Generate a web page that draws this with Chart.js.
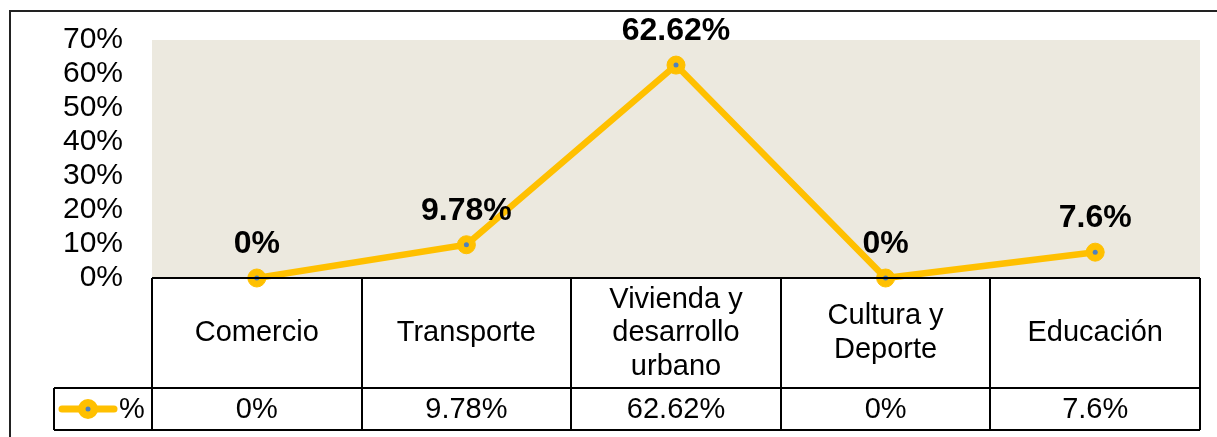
<!DOCTYPE html>
<html>
<head>
<meta charset="utf-8">
<script src="https://cdn.jsdelivr.net/npm/chart.js@4"></script>
<style>
  html, body { margin: 0; padding: 0; background: #fff; }
  canvas { display: block; }
</style>
</head>
<body>
<canvas id="chart" width="1217" height="437"></canvas>
<script>
const categories = [['Comercio'], ['Transporte'], ['Vivienda y', 'desarrollo', 'urbano'], ['Cultura y', 'Deporte'], ['Educación']];
const values = [0, 9.78, 62.62, 0, 7.6];
const valueLabels = ['0%', '9.78%', '62.62%', '0%', '7.6%'];
const seriesName = '%';

const gold = '#FFC000';
const dot = '#4F81BD';
const font = '"Liberation Sans", Arial, sans-serif';

const framePlugin = {
  id: 'frame',
  beforeDraw(chart) {
    const ctx = chart.ctx;
    const a = chart.chartArea;
    ctx.save();
    ctx.fillStyle = '#ECE9DF';
    ctx.fillRect(a.left, a.top, a.right - a.left, a.bottom - a.top);
    // outer border
    ctx.strokeStyle = '#222';
    ctx.lineWidth = 2;
    ctx.strokeRect(10, 11, 1400, 600);
    ctx.restore();
  },
  afterDraw(chart) {
    const ctx = chart.ctx;
    const a = chart.chartArea;
    const n = categories.length;
    const w = (a.right - a.left) / n;
    const rowTop = a.bottom, rowMid = 388, rowBot = 430, legLeft = 54;
    ctx.save();
    ctx.strokeStyle = '#000';
    ctx.lineWidth = 2;
    ctx.beginPath();
    ctx.moveTo(a.left, rowTop); ctx.lineTo(a.right, rowTop);
    ctx.moveTo(legLeft, rowMid); ctx.lineTo(a.right, rowMid);
    ctx.moveTo(legLeft, rowBot); ctx.lineTo(a.right, rowBot);
    ctx.moveTo(legLeft, rowMid); ctx.lineTo(legLeft, rowBot);
    for (let i = 0; i <= n; i++) {
      const x = Math.round(a.left + i * w);
      ctx.moveTo(x, rowTop); ctx.lineTo(x, rowBot);
    }
    ctx.stroke();

    ctx.fillStyle = '#000';
    ctx.font = '29px ' + font;
    ctx.textAlign = 'center';
    ctx.textBaseline = 'middle';
    const xs = chart.scales.x;
    categories.forEach((lines, i) => {
      const cx = xs.getPixelForValue(i);
      const cy = (rowTop + rowMid) / 2;
      const lh = 33.5;
      lines.forEach((t, j) => {
        ctx.fillText(t, cx, cy + (j - (lines.length - 1) / 2) * lh);
      });
      ctx.fillText(valueLabels[i], cx, (rowMid + rowBot) / 2 + 1);
    });

    // legend key
    const ly = (rowMid + rowBot) / 2;
    ctx.strokeStyle = gold;
    ctx.lineWidth = 7;
    ctx.lineCap = 'round';
    ctx.beginPath();
    ctx.moveTo(62, ly); ctx.lineTo(114, ly);
    ctx.stroke();
    ctx.fillStyle = gold;
    ctx.beginPath(); ctx.arc(88, ly, 10, 0, Math.PI * 2); ctx.fill();
    ctx.fillStyle = dot;
    ctx.beginPath(); ctx.arc(88, ly, 2.5, 0, Math.PI * 2); ctx.fill();
    ctx.fillStyle = '#000';
    ctx.textAlign = 'left';
    ctx.fillText(seriesName, 119, ly + 1);
    ctx.restore();
  },
  afterDatasetsDraw(chart) {
    const ctx = chart.ctx;
    const meta = chart.getDatasetMeta(0);
    ctx.save();
    meta.data.forEach((p, i) => {
      ctx.fillStyle = dot;
      ctx.beginPath(); ctx.arc(p.x, p.y, 2.5, 0, Math.PI * 2); ctx.fill();
      ctx.fillStyle = '#000';
      ctx.font = 'bold 32px ' + font;
      ctx.textAlign = 'center';
      ctx.textBaseline = 'middle';
      ctx.fillText(valueLabels[i], p.x, p.y - 34);
    });
    ctx.restore();
  }
};

new Chart(document.getElementById('chart'), {
  type: 'line',
  data: {
    labels: categories.map(c => c.join(' ')),
    datasets: [{
      label: seriesName,
      data: values,
      borderColor: gold,
      borderWidth: 6.5,
      backgroundColor: gold,
      pointRadius: 9,
      pointBorderWidth: 1,
      pointBorderColor: gold,
      pointBackgroundColor: gold,
      tension: 0,
      clip: false
    }]
  },
  options: {
    responsive: false,
    animation: false,
    layout: { padding: { top: 40, right: 17, bottom: 159, left: 0 } },
    plugins: {
      legend: { display: false },
      tooltip: { enabled: false }
    },
    scales: {
      x: {
        display: false,
        offset: true
      },
      y: {
        min: 0,
        max: 70,
        afterFit(scale) {
          scale.width = 152;
          scale.paddingTop = 0;
          scale.paddingBottom = 0;
        },
        grid: { display: false, drawTicks: false },
        border: { display: false },
        ticks: {
          stepSize: 10,
          autoSkip: false,
          padding: 29,
          color: '#000',
          font: { family: font, size: 30 },
          callback: v => v + '%'
        }
      }
    }
  },
  plugins: [framePlugin]
});
</script>
</body>
</html>
